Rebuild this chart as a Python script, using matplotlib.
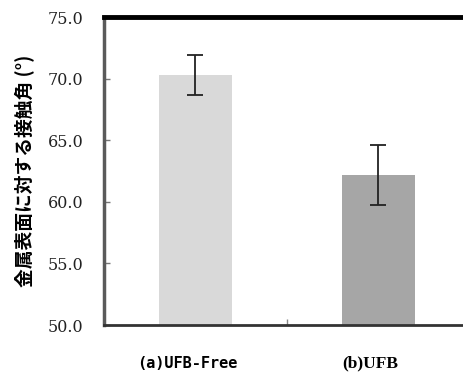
import numpy as np
import matplotlib.pyplot as plt
import matplotlib.transforms as mtransforms

categories = ['(a)UFB-Free', '(b)UFB']
angles = [70.3, 62.2]
errors = [1.65, 2.43]
bar_colors = ['#d9d9d9', '#a6a6a6']
yticks = [50.0, 55.0, 60.0, 65.0, 70.0, 75.0]
ylabel = '金属表面に対する接触角 (°)'

fig = plt.figure(figsize=(4.64, 3.74), dpi=100)
ax = fig.add_axes([104 / 464, 49 / 374, 366 / 464, 308 / 374])

x = np.arange(len(categories))
ax.bar(x, angles, width=0.4, color=bar_colors, zorder=2)
ax.errorbar(x, angles, yerr=errors, fmt='none', ecolor='#222222',
            elinewidth=1.3, capsize=5.5, capthick=1.3, zorder=3)

ax.set_xlim(-0.5, 1.5)
ax.set_ylim(50, 75)
ax.tick_params(axis='y', direction='in', length=4, width=1, color='#777777', pad=15)
ax.set_yticks(yticks)
ax.set_yticklabels(['%.1f' % v for v in yticks])
for lab in ax.get_yticklabels():
    lab.set_fontfamily('DejaVu Serif')
    lab.set_fontsize(11.5)
    lab.set_color('#222222')

# category labels sit a little left of the bars in the original
ax.tick_params(axis='x', which='major', length=0, pad=28)
ax.set_xticks(x)
ax.set_xticklabels(categories)
offset = mtransforms.ScaledTranslation(-8 / 100, 0, fig.dpi_scale_trans)
fams = ['DejaVu Sans Mono', 'Liberation Serif']
sizes = [11, 12.5]
for lab, fam, sz in zip(ax.get_xticklabels(), fams, sizes):
    lab.set_fontfamily(fam)
    lab.set_fontweight('bold')
    lab.set_fontsize(sz)
    lab.set_verticalalignment('center')
    lab.set_transform(lab.get_transform() + offset)

ax.set_xticks([0.5], minor=True)
ax.tick_params(axis='x', which='minor', direction='in', length=4, width=1, color='#888888')

ax.set_ylabel(ylabel, fontfamily=['Noto Sans CJK JP', 'DejaVu Sans'],
              fontweight='bold', fontsize=13.5)
ax.yaxis.set_label_coords(-0.19, 0.5)

ax.spines['top'].set_linewidth(3.5)
ax.spines['top'].set_color('black')
ax.spines['left'].set_linewidth(2.5)
ax.spines['left'].set_color('#5a5a5a')
ax.spines['bottom'].set_linewidth(2)
ax.spines['bottom'].set_color('#333333')
ax.spines['right'].set_visible(False)

fig.savefig('out.png', dpi=100)
